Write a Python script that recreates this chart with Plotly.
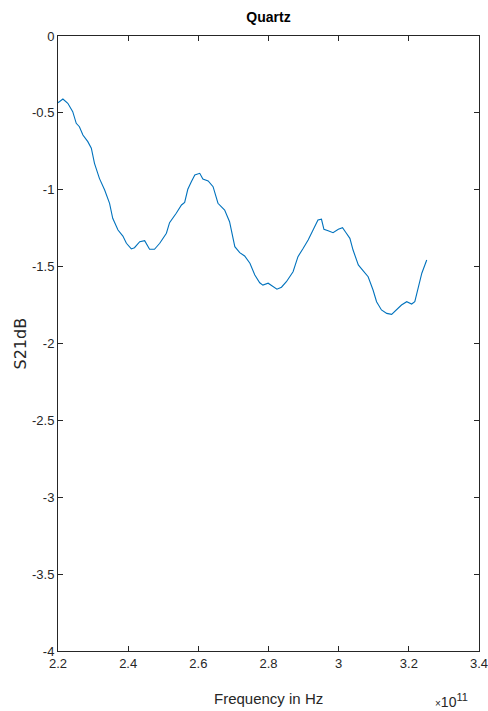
import plotly.graph_objects as go

# Frequency in units of 1e11 Hz
freq = [2.200, 2.214, 2.228, 2.242, 2.252, 2.261, 2.271, 2.285, 2.295, 2.304,
        2.318, 2.333, 2.347, 2.356, 2.371, 2.385, 2.395, 2.409, 2.418, 2.433,
        2.447, 2.461, 2.475, 2.490, 2.509, 2.518, 2.537, 2.552, 2.561, 2.570,
        2.580, 2.590, 2.604, 2.613, 2.628, 2.642, 2.656, 2.675, 2.689, 2.704,
        2.718, 2.732, 2.747, 2.761, 2.775, 2.784, 2.799, 2.813, 2.824, 2.837,
        2.851, 2.870, 2.884, 2.899, 2.913, 2.927, 2.941, 2.951, 2.958, 2.970,
        2.984, 2.999, 3.011, 3.022, 3.032, 3.041, 3.056, 3.070, 3.084, 3.098,
        3.108, 3.122, 3.137, 3.151, 3.165, 3.179, 3.194, 3.208, 3.217, 3.227,
        3.237, 3.251]
s21db = [-0.434, -0.410, -0.438, -0.492, -0.568, -0.590, -0.644, -0.687, -0.730, -0.828,
         -0.926, -1.002, -1.088, -1.186, -1.262, -1.301, -1.348, -1.385, -1.377, -1.338,
         -1.331, -1.387, -1.387, -1.348, -1.283, -1.214, -1.153, -1.099, -1.082, -0.997,
         -0.948, -0.904, -0.893, -0.930, -0.943, -0.980, -1.088, -1.132, -1.208, -1.370,
         -1.409, -1.431, -1.478, -1.554, -1.605, -1.620, -1.608, -1.631, -1.647, -1.634,
         -1.598, -1.533, -1.435, -1.381, -1.327, -1.262, -1.197, -1.192, -1.257, -1.266,
         -1.279, -1.257, -1.247, -1.283, -1.316, -1.392, -1.489, -1.527, -1.566, -1.652,
         -1.728, -1.782, -1.804, -1.810, -1.782, -1.750, -1.728, -1.743, -1.728, -1.631,
         -1.543, -1.457]

x_ticks = [2.2, 2.4, 2.6, 2.8, 3.0, 3.2, 3.4]
x_ticklabels = ["2.2", "2.4", "2.6", "2.8", "3", "3.2", "3.4"]
y_ticks = [0, -0.5, -1, -1.5, -2, -2.5, -3, -3.5, -4]
y_ticklabels = ["0", "-0.5", "-1", "-1.5", "-2", "-2.5", "-3", "-3.5", "-4"]

font = "Liberation Sans, Arial, sans-serif"
axcol = "#262626"

fig = go.Figure()
fig.add_trace(go.Scatter(x=freq, y=s21db, mode="lines",
                         line=dict(color="#0072BD", width=1.1), showlegend=False))

axis_common = dict(showline=True, linecolor=axcol, linewidth=1, mirror="ticks",
                   ticks="inside", ticklen=5, tickcolor=axcol, tickwidth=1,
                   showgrid=False, zeroline=False, automargin=False,
                   ticklabeloverflow="allow",
                   tickfont=dict(family=font, size=13, color=axcol))

fig.update_layout(
    width=488, height=711,
    margin=dict(l=58, r=9, t=36, b=60, autoexpand=False),
    paper_bgcolor="white", plot_bgcolor="white",
    title=dict(text="<b>Quartz</b>", x=0.5, xref="paper", xanchor="center",
               y=1, yref="container", yanchor="top", pad=dict(t=12),
               font=dict(family=font, size=14, color="black")),
    xaxis=dict(range=[2.2, 3.4], tickvals=x_ticks, ticktext=x_ticklabels,
               **axis_common),
    yaxis=dict(range=[-4, 0], tickvals=y_ticks, ticktext=y_ticklabels,
               **axis_common),
)
# axis titles
fig.add_annotation(text="Frequency in Hz", xref="paper", yref="paper",
                   x=0.5, y=0, xanchor="center", yanchor="middle", yshift=-47,
                   showarrow=False, font=dict(family=font, size=15, color=axcol))
fig.add_annotation(text="S21dB", xref="paper", yref="paper", textangle=-90,
                   x=0, y=0.5, xanchor="center", yanchor="middle", xshift=-38,
                   showarrow=False, font=dict(family="DejaVu Sans, sans-serif", size=16, color=axcol))
fig.add_annotation(text="<span style='font-size:10px'>×</span>10<sup><span style='font-size:11px'>11</span></sup>",
                   xref="paper", yref="paper",
                   x=1.0, y=0, xanchor="right", yanchor="top", xshift=-9, yshift=-38,
                   showarrow=False, font=dict(family=font, size=14, color=axcol))

fig.write_html("out.html")
